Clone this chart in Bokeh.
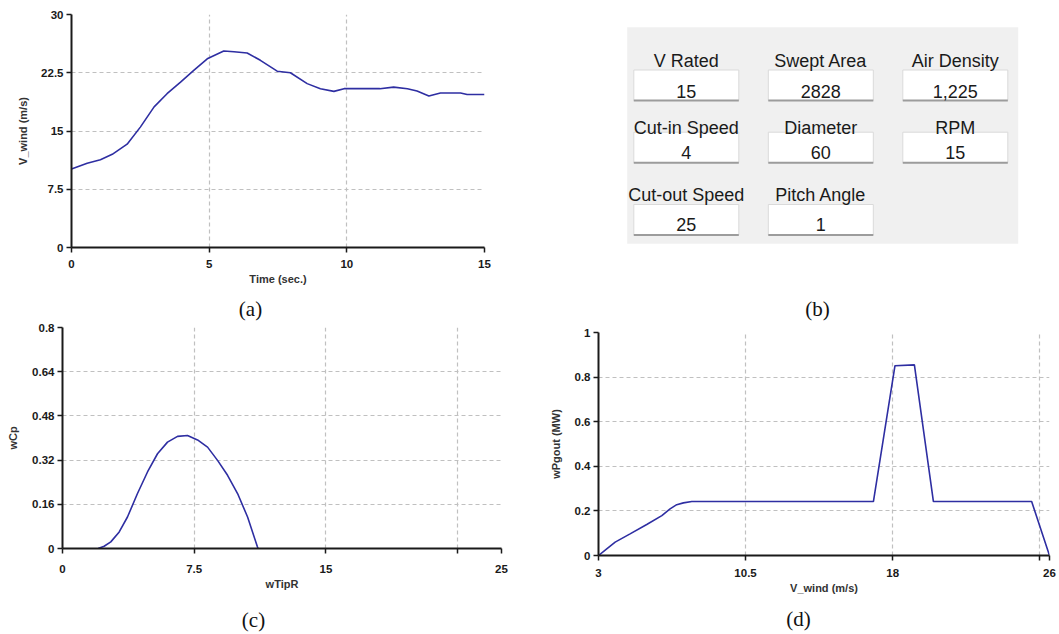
from bokeh.plotting import figure
from bokeh.models import Range1d, FixedTicker, ColumnDataSource
from bokeh.layouts import column, row
from bokeh.core.properties import value
from bokeh.embed import file_html
from bokeh.resources import INLINE

# ---------------- data ----------------
# (a) wind speed vs time
time_s = [0, 0.57, 1.05, 1.48, 2.02, 2.5, 3.0, 3.47, 3.96, 4.44, 4.93, 5.53, 5.9,
          6.38, 6.86, 7.47, 7.95, 8.56, 9.04, 9.53, 9.9, 10.5, 11.2, 11.7, 12.2,
          12.55, 12.98, 13.4, 14.13, 14.37, 15]
v_wind = [10.1, 10.85, 11.3, 12.0, 13.3, 15.5, 18.1, 19.8, 21.3, 22.8, 24.3, 25.3, 25.2,
          25.05, 24.1, 22.7, 22.5, 21.1, 20.45, 20.1, 20.45, 20.45, 20.45, 20.65, 20.45,
          20.15, 19.5, 19.9, 19.9, 19.7, 19.7]
a_xticks = [0, 5, 10, 15]
a_xlabels = ["0", "5", "10", "15"]
a_yticks = [0, 7.5, 15, 22.5, 30]
a_ylabels = ["0", "7.5", "15", "22.5", "30"]

# (b) turbine parameters
param_names = ["V Rated", "Swept Area", "Air Density",
               "Cut-in Speed", "Diameter", "RPM",
               "Cut-out Speed", "Pitch Angle"]
param_values = ["15", "2828", "1,225", "4", "60", "15", "25", "1"]

# (c) power coefficient vs tip speed ratio
tip_ratio = [2.03, 2.37, 2.75, 3.23, 3.7, 4.27, 4.84, 5.41, 5.98, 6.55, 7.12, 7.69,
             8.26, 8.83, 9.4, 9.97, 10.54, 11.1, 11.14]
cp_vals = [0.0, 0.008, 0.024, 0.06, 0.114, 0.199, 0.277, 0.343, 0.385, 0.406, 0.409,
           0.393, 0.367, 0.319, 0.265, 0.199, 0.114, 0.006, 0.0]
c_xticks = [0, 7.5, 15, 22.5, 25]
c_xlabels = ["0", "7.5", "15", "", "25"]
c_xgrid = [0, 7.5, 15, 22.5]
c_yticks = [0, 0.16, 0.32, 0.48, 0.64, 0.8]
c_ylabels = ["0", "0.16", "0.32", "0.48", "0.64", "0.8"]

# (d) output power vs wind speed
wind_speed = [3, 3.42, 3.85, 4.61, 5.46, 6.23, 6.65, 6.99, 7.33, 7.76, 17.02, 18.12,
              19.11, 20.08, 25.09, 26.0]
p_out = [0, 0.03, 0.06, 0.097, 0.139, 0.179, 0.209, 0.228, 0.236, 0.242, 0.242, 0.851,
         0.855, 0.242, 0.242, 0]
d_xticks = [3, 10.5, 18, 25.5, 26]
d_xlabels = ["3", "10.5", "18", "", "26"]
d_xgrid = [3, 10.5, 18, 25.5]
d_yticks = [0, 0.2, 0.4, 0.6, 0.8, 1]
d_ylabels = ["0", "0.2", "0.4", "0.6", "0.8", "1"]

captions = ["(a)", "(b)", "(c)", "(d)"]

# ---------------- styles / layout ----------------
LINE = "#2e2ea2"
AX = "#1a1a1a"
GRID = "#c0c0c0"
SANS = "Liberation Sans"
SERIF = "Liberation Serif"
W, H = 1059, 634
TOP_END = 290      # upper panels end
CAP1_END = 321     # caption strip (a)/(b) ends
MID_END = 602      # lower panels end; caption strip (c)/(d) below


def make_plot(w, h, xr, yr, borders, xticks, xlabels, xgrid, yticks, ylabels, ygrid,
              xlab, ylab, ylab_standoff, xlabel_standoff):
    p = figure(width=w, height=h, x_range=Range1d(*xr), y_range=Range1d(*yr),
               output_backend="svg", toolbar_location=None,
               min_border_left=borders[0], min_border_right=borders[1],
               min_border_top=borders[2], min_border_bottom=borders[3])
    p.outline_line_color = None
    p.background_fill_color = "white"
    p.border_fill_color = "white"
    p.xaxis.ticker = FixedTicker(ticks=xticks)
    p.xaxis.major_label_overrides = dict(zip(xticks, xlabels))
    p.yaxis.ticker = FixedTicker(ticks=yticks)
    p.yaxis.major_label_overrides = dict(zip(yticks, ylabels))
    p.xgrid.ticker = FixedTicker(ticks=xgrid)
    p.ygrid.ticker = FixedTicker(ticks=ygrid)
    for g in (p.xgrid, p.ygrid):
        g.grid_line_color = GRID
        g.grid_line_dash = "4 3"
        g.grid_line_width = 1.2
    for ax in (p.xaxis, p.yaxis):
        ax.axis_line_color = AX
        ax.axis_line_width = 2
        ax.major_tick_line_color = AX
        ax.major_tick_line_width = 1.5
        ax.major_tick_out = 5
        ax.major_tick_in = 0
        ax.minor_tick_line_color = None
        ax.major_label_text_font = SANS
        ax.major_label_text_font_style = "bold"
        ax.major_label_text_font_size = "11.5px"
        ax.major_label_text_color = AX
        ax.axis_label_text_font = SANS
        ax.axis_label_text_font_style = "bold"
        ax.axis_label_text_font_size = "11px"
        ax.axis_label_text_color = "#333333"
    p.xaxis.axis_label = xlab
    p.yaxis.axis_label = ylab
    p.xaxis.major_label_standoff = xlabel_standoff
    p.yaxis.major_label_standoff = 3
    p.xaxis.axis_label_standoff = 2
    p.yaxis.axis_label_standoff = ylab_standoff
    return p


def blank(w, x0, y0, y1):
    """Axis-less figure whose data units are page pixels (y grows downwards)."""
    f = figure(width=w, height=y1 - y0, x_range=Range1d(x0, x0 + w),
               y_range=Range1d(y1, y0), output_backend="svg", toolbar_location=None,
               x_axis_type=None, y_axis_type=None, min_border=0)
    f.outline_line_color = None
    f.background_fill_color = "white"
    f.border_fill_color = "white"
    f.grid.visible = False
    return f


def caption_strip(y0, y1, xs, ys, texts):
    f = blank(W, 0, y0, y1)
    f.text(x=xs, y=ys, text=texts, text_font=value(SERIF), text_font_size="21px",
           text_align="center", text_baseline="middle", text_color="#111111")
    return f


# (a)
fa = make_plot(530, TOP_END, (0, 15), (0, 30), (71, 46, 14, TOP_END - 247),
               a_xticks, a_xlabels, a_xticks, a_yticks, a_ylabels, a_yticks,
               "Time (sec.)", "V_wind (m/s)", 9, 7)
fa.line(time_s, v_wind, line_color=LINE, line_width=1.6)

# (b) parameter panel
fb = blank(529, 530, 0, TOP_END)
fb.quad(left=[626.7], right=[1017.7], top=[26.7], bottom=[243.3],
        fill_color="#f0f0f0", line_color=None)
col_x0, col_dx, box_w, box_h = 685.8, 134.5, 105, 30.5
box_tops = [69.5, 131.7, 204.0]
label_base = [60.7, 127.3, 194.3]
value_base = [90.7, 152.3, 224.3]
cols = [i % 3 for i in range(len(param_names))]
rows = [i // 3 for i in range(len(param_names))]
cx = [col_x0 + c * col_dx for c in cols]
src = ColumnDataSource(dict(
    cx=cx,
    left=[x - box_w / 2 for x in cx],
    right=[x + box_w / 2 for x in cx],
    top=[box_tops[r] for r in rows],
    bottom=[box_tops[r] + box_h for r in rows],
    ly=[label_base[r] for r in rows],
    vy=[value_base[r] for r in rows],
    name=param_names,
    val=param_values,
))
fb.quad(left="left", right="right", top="top", bottom="bottom", source=src,
        fill_color="white", line_color="#dadada", line_width=1)
fb.segment(x0="left", x1="right", y0="bottom", y1="bottom", source=src,
           line_color="#9c9c9c", line_width=2)
fb.text(x="cx", y="ly", text="name", source=src, text_font=value(SANS),
        text_font_size="18px", text_align="center", text_baseline="alphabetic",
        text_color="#1a1a1a")
fb.text(x="cx", y="vy", text="val", source=src, text_font=value(SANS),
        text_font_size="18px", text_align="center", text_baseline="alphabetic",
        text_color="#1a1a1a")

cap_ab = caption_strip(TOP_END, CAP1_END, [250, 817], [308.5, 308.5], captions[:2])

# (c)
fc = make_plot(530, MID_END - CAP1_END, (0, 25), (0, 0.8),
               (62, 29, 327 - CAP1_END, MID_END - 548),
               c_xticks, c_xlabels, c_xgrid, c_yticks, c_ylabels, c_yticks,
               "wTipR", "wCp", 10, 11)
fc.line(tip_ratio, cp_vals, line_color=LINE, line_width=1.6)

# (d)
fd = make_plot(529, MID_END - CAP1_END, (3, 26), (0, 1),
               (68, 10, 332 - CAP1_END, MID_END - 555),
               d_xticks, d_xlabels, d_xgrid, d_yticks, d_ylabels, d_yticks,
               "V_wind (m/s)", "wPgout (MW)", 10, 8)
fd.line(wind_speed, p_out, line_color=LINE, line_width=1.6)

cap_cd = caption_strip(MID_END, H, [253, 798], [619, 618], captions[2:])

layout = column(row(column(fa), column(fb)), cap_ab,
                row(column(fc), column(fd)), cap_cd)
open("out.html", "w").write(file_html(layout, INLINE))
